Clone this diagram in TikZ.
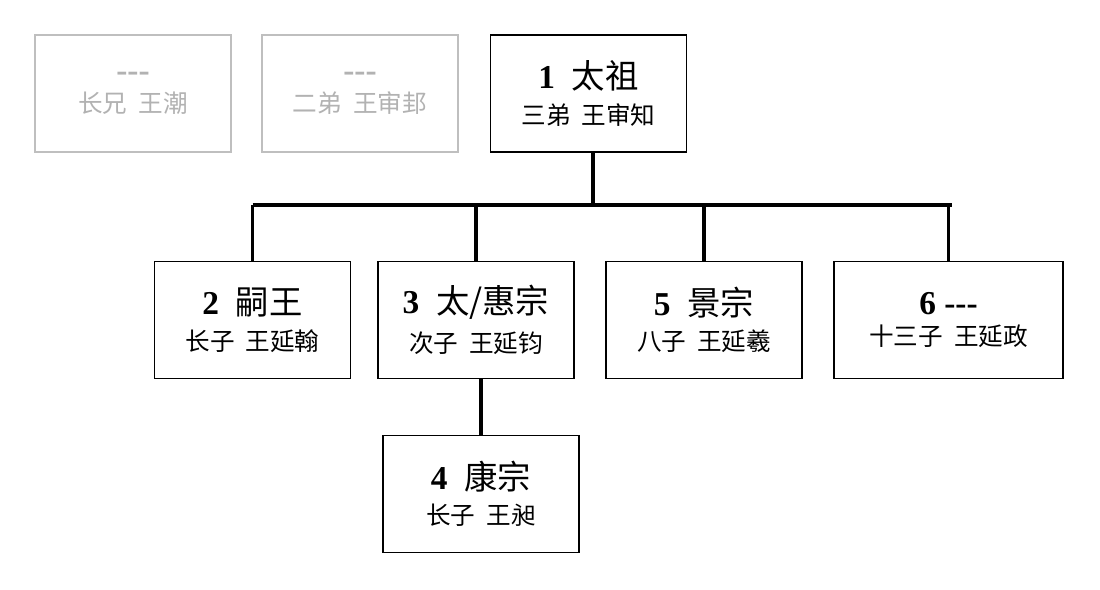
\documentclass[tikz,border=0pt]{standalone}
\usepackage{fontspec}
\setmainfont{Liberation Serif}
\newfontfamily\cjk{Noto Sans CJK SC}
\tikzset{
  member/.style={draw,line width=1pt,minimum width=3.92cm,minimum height=2.34cm,align=center,inner sep=0pt},
  faded/.style={member,draw=black!25,text=black!30},
  link/.style={line width=2pt}
}
\newcommand{\entry}[2]{{\fontsize{19}{24}\selectfont\bfseries #1}\\[6pt]{\cjk\fontsize{14}{18}\selectfont #2}}
\begin{document}
\begin{tikzpicture}[x=0.02cm,y=-0.02cm]
	\useasboundingbox[fill=white] (0,0) rectangle (1100,590);
	% Top row
	\node[faded] (chao) at (133,93.5) {\entry{-{}-{}-}{长兄\ \ 王潮}};
	\node[faded] (shenbang) at (360,93.5) {\entry{-{}-{}-}{二弟\ \ 王审邽}};
	\node[member] (taizu) at (588.5,93.5) {\entry{1\ \ {\cjk\mdseries 太祖}}{三弟\ \ 王审知}};
	
	% Sons
	\node[member] (siwang) at (252.5,320) {\entry{2\ \ {\cjk\mdseries 嗣王}}{长子\ \ 王延翰}};
	\node[member] (huizong) at (476,320) {\entry{3\ \ {\cjk\mdseries 太/惠宗}}{次子\ \ 王延钧}};
	\node[member] (jingzong) at (704,320) {\entry{5\ \ {\cjk\mdseries 景宗}}{八子\ \ 王延羲}};
	\node[member,minimum width=4.58cm] (yanzheng) at (948.5,320) {\entry{6 -{}-{}-}{十三子\ \ 王延政}};
	
	% Grandson
	\node[member] (kangzong) at (481,494) {\entry{4\ \ {\cjk\mdseries 康宗}}{长子\ \ 王昶}};
	
	% Connectors
	\coordinate (bus) at (593,205);
	\draw[link] (taizu.south -| bus) -- (bus);
	\draw[link] (bus -| siwang.north) -- (bus -| 952,0);
	\draw[link] (bus -| siwang.north) -- (siwang.north);
	\draw[link] (bus -| huizong.north) -- (huizong.north);
	\draw[link] (bus -| jingzong.north) -- (jingzong.north);
	\draw[link] (bus -| yanzheng.north) -- (yanzheng.north);
	\draw[link] (huizong.south -| kangzong.north) -- (kangzong.north);
\end{tikzpicture}
\end{document}
